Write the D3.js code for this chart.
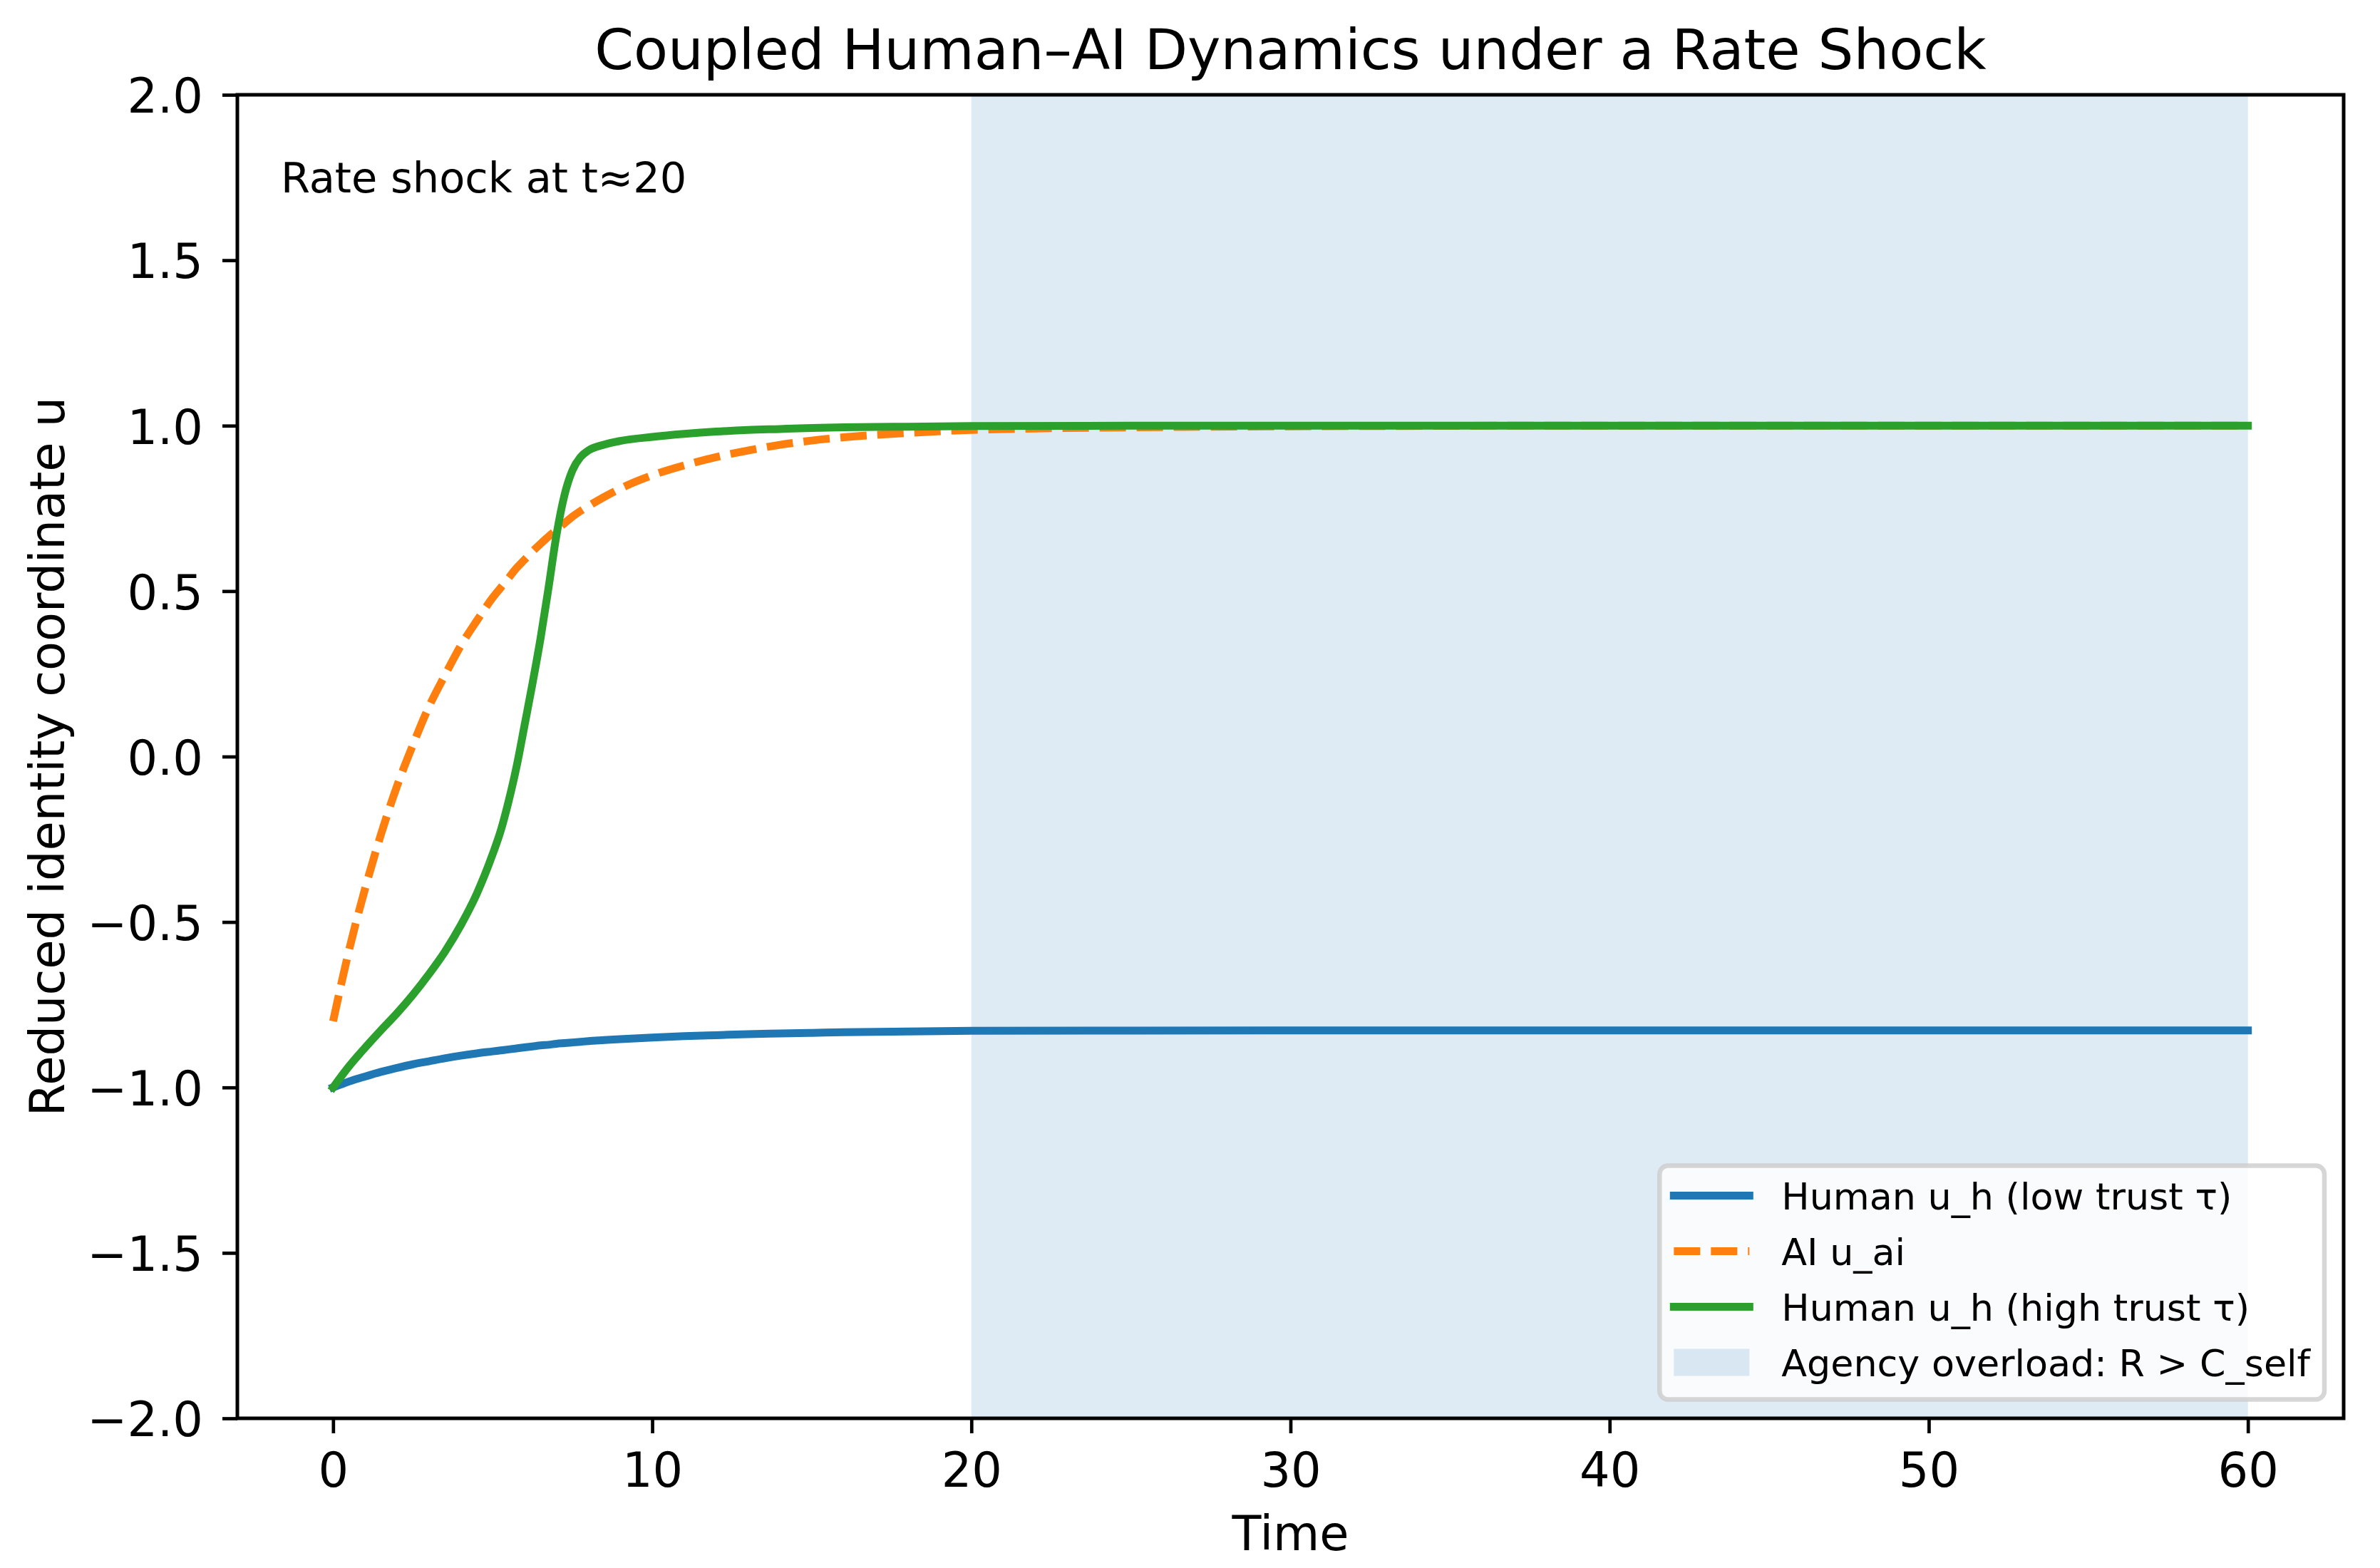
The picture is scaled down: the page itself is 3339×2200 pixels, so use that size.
<!doctype html>
<html>
<head>
    <meta charset="utf-8">
    <script src="https://d3js.org/d3.v7.min.js"></script>
</head>
<style>
    body { margin: 0; background: white; }
    svg text { font-family: "DejaVu Sans", sans-serif; fill: black; }
</style>
<body>
<script>
    // time samples
    var time = [0, 0.5, 1, 1.5, 2, 2.5, 3, 3.5, 4, 4.5, 5, 5.25, 5.5, 5.75, 6, 6.25, 6.5, 6.75, 7, 7.25,
                7.5, 7.75, 8, 8.5, 9, 10, 11, 12, 13, 14, 15, 16, 18, 20, 25, 30, 40, 50, 60];

    var humanLow = [-1.0, -0.982, -0.967, -0.953, -0.941, -0.930, -0.921, -0.912, -0.904, -0.897, -0.891,
                    -0.888, -0.885, -0.882, -0.879, -0.876, -0.873, -0.871, -0.868, -0.866, -0.864, -0.862,
                    -0.860, -0.857, -0.854, -0.849, -0.845, -0.842, -0.839, -0.837, -0.835, -0.833, -0.831,
                    -0.829, -0.828, -0.8275, -0.8275, -0.8275, -0.8275];

    var aiValues = [-0.80, -0.585, -0.40, -0.235, -0.09, 0.035, 0.15, 0.245, 0.335, 0.41, 0.48, 0.51, 0.54,
                    0.57, 0.595, 0.62, 0.643, 0.665, 0.685, 0.705, 0.725, 0.742, 0.757, 0.785, 0.81, 0.85,
                    0.88, 0.905, 0.925, 0.942, 0.955, 0.965, 0.978, 0.987, 0.995, 0.998, 1.0, 1.0, 1.0];

    var humanHigh = [-1.0, -0.936, -0.88, -0.827, -0.776, -0.72, -0.658, -0.59, -0.51, -0.415, -0.295, -0.225,
                     -0.135, -0.03, 0.095, 0.222, 0.357, 0.51, 0.67, 0.79, 0.865, 0.905, 0.925, 0.943, 0.954,
                     0.966, 0.975, 0.982, 0.987, 0.99, 0.993, 0.995, 0.997, 0.999, 1.0, 1.0, 1.0, 1.0, 1.0];

    var shockSpan = [20, 60];
    var xTicks = [0, 10, 20, 30, 40, 50, 60];
    var yTicks = [-2, -1.5, -1, -0.5, 0, 0.5, 1, 1.5, 2];

    var seriesNames = ["Human u_h (low trust \u03c4)", "AI u_ai", "Human u_h (high trust \u03c4)",
                       "Agency overload: R > C_self"];
    var seriesColors = ["#1f77b4", "#ff7f0e", "#2ca02c", "#1f77b4"];

    var width = 3339, height = 2200;
    var pL = 333, pR = 3288, pT = 133, pB = 1990;

    var x = d3.scaleLinear().domain([-3, 63]).range([pL, pR]);
    var y = d3.scaleLinear().domain([-2, 2]).range([pB, pT]);

    var svg = d3.select("body")
                .append("svg")
                .attr("width", width)
                .attr("height", height);

    svg.append("rect").attr("width", width).attr("height", height).attr("fill", "white");

    svg.append("clipPath").attr("id", "plot")
       .append("rect")
       .attr("x", pL).attr("y", pT)
       .attr("width", pR - pL).attr("height", pB - pT);

    var plot = svg.append("g").attr("clip-path", "url(#plot)");

    // shaded overload region
    plot.append("rect")
        .attr("x", x(shockSpan[0]))
        .attr("y", pT)
        .attr("width", x(shockSpan[1]) - x(shockSpan[0]))
        .attr("height", pB - pT)
        .attr("fill", "#1f77b4")
        .attr("fill-opacity", 0.15);

    var line = d3.line()
                 .x(function (d) { return x(d[0]); })
                 .y(function (d) { return y(d[1]); })
                 .curve(d3.curveMonotoneX);

    var lines = [
        { values: humanLow, color: seriesColors[0], dash: null },
        { values: aiValues, color: seriesColors[1], dash: "37,15" },
        { values: humanHigh, color: seriesColors[2], dash: null }
    ];

    plot.selectAll("path.series")
        .data(lines)
        .enter()
        .append("path")
        .attr("class", "series")
        .attr("d", function (d) { return line(time.map(function (t, i) { return [t, d.values[i]]; })); })
        .attr("fill", "none")
        .attr("stroke", function (d) { return d.color; })
        .attr("stroke-width", 11)
        .attr("stroke-linejoin", "round")
        .attr("stroke-linecap", function (d) { return d.dash ? "butt" : "square"; })
        .attr("stroke-dasharray", function (d) { return d.dash; });

    // axes
    var xAxis = svg.append("g")
                   .attr("transform", "translate(0," + pB + ")")
                   .call(d3.axisBottom(x).tickValues(xTicks).tickSize(21).tickPadding(27).tickFormat(d3.format("d")));

    var yAxis = svg.append("g")
                   .attr("transform", "translate(" + pL + ",0)")
                   .call(d3.axisLeft(y).tickValues(yTicks).tickSize(21).tickPadding(27).tickFormat(d3.format(".1f")));

    [xAxis, yAxis].forEach(function (a) {
        a.select(".domain").remove();
        a.selectAll("line").attr("stroke", "black").attr("stroke-width", 4.7);
        a.selectAll("text").attr("font-size", 67).attr("font-family", "DejaVu Sans").attr("fill", "black");
    });
    yAxis.selectAll("text").attr("dy", "0.37em");

    svg.append("rect")
       .attr("x", pL).attr("y", pT)
       .attr("width", pR - pL).attr("height", pB - pT)
       .attr("fill", "none")
       .attr("stroke", "black")
       .attr("stroke-width", 5);

    // labels
    svg.append("text")
       .attr("x", (pL + pR) / 2).attr("y", 97)
       .attr("text-anchor", "middle")
       .attr("font-size", 78.5)
       .text("Coupled Human\u2013AI Dynamics under a Rate Shock");

    svg.append("text")
       .attr("x", (pL + pR) / 2).attr("y", 2175)
       .attr("text-anchor", "middle")
       .attr("font-size", 67)
       .text("Time");

    svg.append("text")
       .attr("transform", "translate(90," + (pT + pB) / 2 + ") rotate(-90)")
       .attr("text-anchor", "middle")
       .attr("font-size", 67)
       .text("Reduced identity coordinate u");

    svg.append("text")
       .attr("x", 394).attr("y", 270)
       .attr("font-size", 59)
       .text("Rate shock at t\u224820");

    // legend, anchored lower right
    var legRight = 3261, legBottom = 1963.5, rowGap = 78, legFont = 52.3;
    var legend = svg.append("g");
    var box = legend.append("rect");

    var rows = legend.selectAll("g.row")
                     .data(seriesNames)
                     .enter()
                     .append("g")
                     .attr("class", "row");

    var texts = rows.append("text")
                    .attr("font-size", legFont)
                    .text(function (d) { return d; });

    var textW = d3.max(texts.nodes(), function (n) { return n.getComputedTextLength(); });
    var legW = 20 + 106 + 45 + textW + 20;
    var legH = 328;
    var legLeft = legRight - legW, legTop = legBottom - legH;

    box.attr("x", legLeft).attr("y", legTop)
       .attr("width", legW).attr("height", legH)
       .attr("rx", 12)
       .attr("fill", "white").attr("fill-opacity", 0.8)
       .attr("stroke", "#cccccc").attr("stroke-opacity", 0.8)
       .attr("stroke-width", 6.5);

    rows.attr("transform", function (d, i) { return "translate(" + (legLeft + 20) + "," + (legTop + 42 + i * rowGap) + ")"; });

    texts.attr("x", 151).attr("y", 19);

    rows.each(function (d, i) {
        var g = d3.select(this);
        if (i < 3) {
            g.append("line")
             .attr("x1", 0).attr("x2", 106)
             .attr("stroke", seriesColors[i])
             .attr("stroke-width", 11)
             .attr("stroke-linecap", lines[i].dash ? "butt" : "square")
             .attr("stroke-dasharray", lines[i].dash);
        } else {
            g.append("rect")
             .attr("x", 0).attr("y", -19)
             .attr("width", 106).attr("height", 38)
             .attr("fill", seriesColors[i])
             .attr("fill-opacity", 0.15);
        }
    });
</script>
</body>
</html>
